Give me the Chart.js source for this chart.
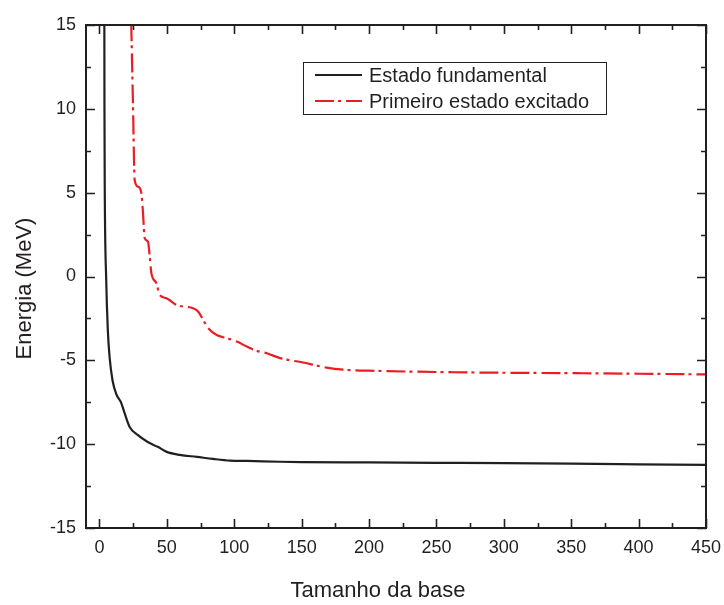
<!DOCTYPE html>
<html><head><meta charset="utf-8">
<script src="https://cdn.jsdelivr.net/npm/chart.js@4.4.1/dist/chart.umd.min.js"></script>
<style>html,body{margin:0;padding:0;background:#fff}#wrap{position:relative;width:724px;height:605px}</style>
</head><body><div id="wrap"><canvas id="c" width="724" height="605"></canvas></div>
<script>
// ---- data ----
const seriesNames = ['Estado fundamental', 'Primeiro estado excitado'];
const groundX = [3.6, 3.7, 3.9, 5.0, 6.2, 7.5, 9.7, 12.4, 16.2, 18.6, 22.4, 28.3, 35.8, 43.2, 49.9, 59.6, 72.3, 84.2, 96.9, 109.5, 134, 150, 200, 250, 300, 350, 400, 450];
const groundY = [16, 10, 5.5, -0.2, -3.2, -4.8, -6.2, -7.0, -7.55, -8.14, -8.97, -9.45, -9.87, -10.16, -10.46, -10.64, -10.76, -10.88, -10.98, -11.0, -11.05, -11.07, -11.09, -11.11, -11.13, -11.16, -11.2, -11.24];
const excitedX = [23.0, 23.6, 24.8, 26.1, 28.5, 31, 32.3, 33.5, 36, 37.3, 38.5, 42.2, 44.7, 49.7, 57.2, 69.5, 73.3, 77, 80.7, 87, 94.4, 101.9, 109.3, 116.8, 124.2, 134, 151, 168.4, 183, 205.4, 230, 262, 300, 358.6, 400, 450];
const excitedY = [17, 14.9, 10.5, 5.76, 5.36, 5.0, 3.79, 2.3, 2.08, 1.18, 0.2, -0.4, -1.1, -1.3, -1.7, -1.9, -2.1, -2.6, -3.09, -3.49, -3.68, -3.88, -4.18, -4.44, -4.58, -4.87, -5.13, -5.43, -5.57, -5.63, -5.67, -5.71, -5.74, -5.77, -5.8, -5.84];
const xTickValues = [0, 50, 100, 150, 200, 250, 300, 350, 400, 450];
const yTickValues = [-15, -10, -5, 0, 5, 10, 15];
const xTitle = 'Tamanho da base';
const yTitle = 'Energia (MeV)';

// ---- styling ----
const INK = '#231f20';
const RED = '#ec1c24';
const FONT = '"Liberation Sans", Arial, sans-serif';
const RED_DASH = [19, 4, 3, 5];

const toPoints = (xs, ys) => xs.map((v, i) => ({x: v, y: ys[i]}));
const mids = arr => arr.slice(0, -1).map((v, i) => (v + arr[i + 1]) / 2);

const framePlugin = {
  id: 'frame',
  afterDraw(chart) {
    const {ctx, chartArea: a, scales: {x, y}} = chart;
    ctx.save();
    ctx.strokeStyle = INK;
    ctx.lineWidth = 2;
    ctx.strokeRect(a.left, a.top, a.right - a.left, a.bottom - a.top);
    ctx.lineWidth = 1.6;
    const tick = (vals, len, isX) => {
      vals.forEach(v => {
        ctx.beginPath();
        if (isX) {
          const p = Math.round(x.getPixelForValue(v)) + 0.5;
          ctx.moveTo(p, a.bottom); ctx.lineTo(p, a.bottom - len);
          ctx.moveTo(p, a.top); ctx.lineTo(p, a.top + len);
        } else {
          const p = Math.round(y.getPixelForValue(v)) + 0.5;
          ctx.moveTo(a.left, p); ctx.lineTo(a.left + len, p);
          ctx.moveTo(a.right, p); ctx.lineTo(a.right - len, p);
        }
        ctx.stroke();
      });
    };
    tick(xTickValues, 9, true);
    tick(mids(xTickValues), 5, true);
    tick(yTickValues, 9, false);
    tick(mids(yTickValues), 5, false);

    // axis titles
    ctx.fillStyle = INK;
    ctx.font = '22px ' + FONT;
    ctx.textAlign = 'center';
    ctx.textBaseline = 'middle';
    ctx.fillText(xTitle, (a.left + a.right) / 2 - 18, 591);
    ctx.save();
    ctx.translate(25, (a.top + a.bottom) / 2 + 12);
    ctx.rotate(-Math.PI / 2);
    ctx.fillText(yTitle, 0, 0);
    ctx.restore();

    // legend box
    const bx = 303, by = 62, bw = 303, bh = 52;
    ctx.lineWidth = 1;
    ctx.strokeStyle = INK;
    ctx.strokeRect(bx + 0.5, by + 0.5, bw, bh);
    const rows = [75, 101];
    chart.data.datasets.forEach((ds, i) => {
      ctx.beginPath();
      ctx.strokeStyle = ds.borderColor;
      ctx.lineWidth = 2;
      ctx.setLineDash(ds.borderDash || []);
      ctx.moveTo(315, rows[i]); ctx.lineTo(362, rows[i]);
      ctx.stroke();
      ctx.setLineDash([]);
      ctx.fillStyle = INK;
      ctx.font = '20px ' + FONT;
      ctx.textAlign = 'left';
      ctx.textBaseline = 'middle';
      ctx.fillText(ds.label, 369, rows[i] + 1);
    });
    ctx.restore();
  }
};

new Chart(document.getElementById('c'), {
  type: 'line',
  data: {
    datasets: [
      {label: seriesNames[0], data: toPoints(groundX, groundY), borderColor: INK, borderWidth: 2.2,
       pointRadius: 0, fill: false, cubicInterpolationMode: 'monotone'},
      {label: seriesNames[1], data: toPoints(excitedX, excitedY), borderColor: RED, borderWidth: 2.2,
       borderDash: RED_DASH, pointRadius: 0, fill: false, cubicInterpolationMode: 'monotone'}
    ]
  },
  options: {
    responsive: false,
    animation: false,
    devicePixelRatio: 1,
    layout: {padding: {left: 0, top: 25, right: 18, bottom: 0}},
    plugins: {legend: {display: false}, tooltip: {enabled: false}},
    scales: {
      x: {
        type: 'linear', min: -10, max: 450,
        grid: {display: false, drawTicks: false},
        border: {display: false},
        afterBuildTicks: s => { s.ticks = xTickValues.map(v => ({value: v})); },
        afterFit: s => { s.height = 77; s.paddingLeft = 0; s.paddingRight = 0; },
        ticks: {color: INK, font: {family: FONT, size: 18}, padding: 9, maxRotation: 0, autoSkip: false}
      },
      y: {
        type: 'linear', min: -15, max: 15,
        grid: {display: false, drawTicks: false},
        border: {display: false},
        afterBuildTicks: s => { s.ticks = yTickValues.map(v => ({value: v})); },
        afterFit: s => { s.width = 86; s.paddingTop = 0; s.paddingBottom = 0; },
        ticks: {color: INK, font: {family: FONT, size: 18}, padding: 10, autoSkip: false}
      }
    }
  },
  plugins: [framePlugin]
});
</script>
</body></html>
